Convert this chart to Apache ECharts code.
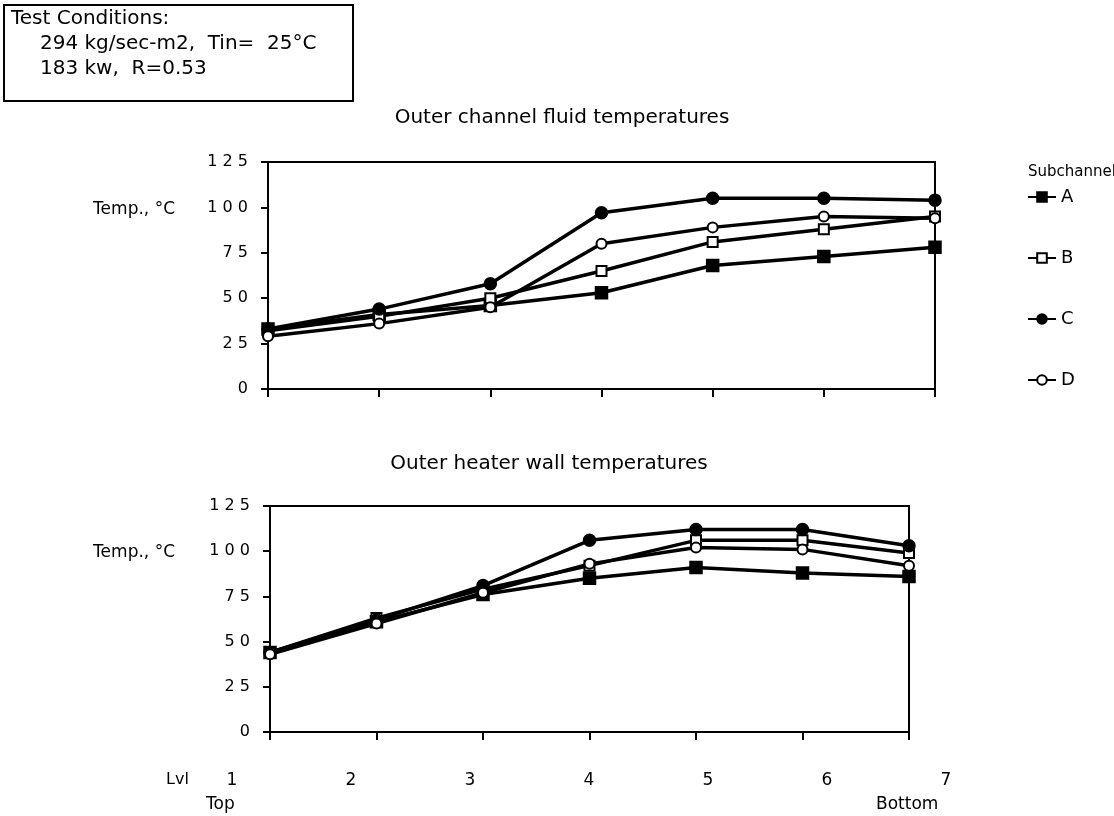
<!DOCTYPE html>
<html>
<head>
<meta charset="utf-8">
<script src="https://cdn.jsdelivr.net/npm/echarts@6/dist/echarts.min.js"></script>
<style>
html, body { margin: 0; padding: 0; background: #fff; }
#chartDIV { width: 1114px; height: 816px; }
</style>
</head>
<body>
<div id="chartDIV"></div>
<script>
var levels = ['1', '2', '3', '4', '5', '6', '7'];
var yTicks = [0, 25, 50, 75, 100, 125];

// Outer channel fluid temperatures
var fluidA = [33, 41, 46, 53, 68, 73, 78];
var fluidB = [32, 40, 50, 65, 81, 88, 95];
var fluidC = [33, 44, 58, 97, 105, 105, 104];
var fluidD = [29, 36, 45, 80, 89, 95, 94];

// Outer heater wall temperatures
var wallA = [44, 61, 76, 85, 91, 88, 86];
var wallB = [44, 63, 79, 92, 106, 106, 99];
var wallC = [44, 62, 81, 106, 112, 112, 103];
var wallD = [43, 60, 77, 93, 102, 101, 92];

var myChart = echarts.init(document.getElementById('chartDIV'));
var font = '"DejaVu Sans", Arial, sans-serif';

function spaced(v) {
    return String(v).split('').join(' ');
}

function line(name, data, symbol, idx) {
    return {
        name: name,
        type: 'line',
        xAxisIndex: idx,
        yAxisIndex: idx,
        data: data,
        symbol: symbol,
        symbolSize: symbol.indexOf('empty') === 0 ? 10 : 11,
        showAllSymbol: true,
        lineStyle: { color: '#000', width: 3.5 },
        itemStyle: { color: '#000', borderColor: '#000', borderWidth: 2.5 },
        animation: false
    };
}

function yAxis(idx) {
    return {
        type: 'value',
        gridIndex: idx,
        min: yTicks[0], max: yTicks[yTicks.length - 1], interval: 25,
        axisLine: { show: true, lineStyle: { color: '#000', width: 2 } },
        axisTick: { show: true, inside: false, length: 7, lineStyle: { color: '#000', width: 2 } },
        splitLine: { show: false },
        axisLabel: {
            color: '#000', fontFamily: font, fontSize: 16, margin: 20,
            formatter: function (v) { return spaced(v); }
        }
    };
}

function xAxis(idx) {
    return {
        type: 'category',
        gridIndex: idx,
        data: levels,
        boundaryGap: false,
        axisLine: { show: true, lineStyle: { color: '#000', width: 2 } },
        axisTick: { show: true, inside: false, length: 8, lineStyle: { color: '#000', width: 2 } },
        axisLabel: { show: false }
    };
}

function label(x, y, str, size, align) {
    return {
        type: 'text', x: x, y: y,
        style: { text: str, fill: '#000', font: size + 'px ' + font, align: align || 'left', verticalAlign: 'middle' }
    };
}

var option = {
    backgroundColor: '#fff',
    animation: false,
    grid: [
        { left: 268, right: 179, top: 162, height: 227, show: true, borderColor: '#000', borderWidth: 2, backgroundColor: 'transparent' },
        { left: 270, right: 205, top: 506, height: 226, show: true, borderColor: '#000', borderWidth: 2, backgroundColor: 'transparent' },
        { left: 232, right: 168, top: 770, height: 0 }
    ],
    xAxis: [
        xAxis(0),
        xAxis(1),
        {
            type: 'category', gridIndex: 2, data: levels, boundaryGap: false,
            axisLine: { show: false }, axisTick: { show: false },
            axisLabel: { color: '#000', fontFamily: font, fontSize: 17, margin: 2 }
        }
    ],
    yAxis: [yAxis(0), yAxis(1), { type: 'value', gridIndex: 2, show: false }],
    legend: {
        orient: 'vertical',
        left: 1022,
        top: 183,
        itemGap: 43,
        itemWidth: 28,
        itemHeight: 12,
        textStyle: { color: '#000', fontFamily: font, fontSize: 18 },
        data: ['A', 'B', 'C', 'D']
    },
    series: [
        line('A', fluidA, 'rect', 0),
        line('B', fluidB, 'emptyRect', 0),
        line('C', fluidC, 'circle', 0),
        line('D', fluidD, 'emptyCircle', 0),
        line('A', wallA, 'rect', 1),
        line('B', wallB, 'emptyRect', 1),
        line('C', wallC, 'circle', 1),
        line('D', wallD, 'emptyCircle', 1)
    ],
    graphic: [
        {
            type: 'rect', left: 3, top: 4,
            shape: { width: 349, height: 96 },
            style: { fill: '#fff', stroke: '#000', lineWidth: 2 }
        },
        label(11, 19, 'Test Conditions:', 20),
        label(40, 44, '294 kg/sec-m2,  Tin=  25°C', 20),
        label(40, 69, '183 kw,  R=0.53', 20),
        label(562, 118, 'Outer channel fluid temperatures', 20, 'center'),
        label(549, 464, 'Outer heater wall temperatures', 20, 'center'),
        label(1028, 172, 'Subchannel', 15),
        label(175, 210, 'Temp., °C', 17, 'right'),
        label(175, 553, 'Temp., °C', 17, 'right'),
        label(166, 780, 'Lvl', 16),
        label(206, 805, 'Top', 17),
        label(876, 805, 'Bottom', 17)
    ]
};

myChart.setOption(option);
</script>
</body>
</html>
